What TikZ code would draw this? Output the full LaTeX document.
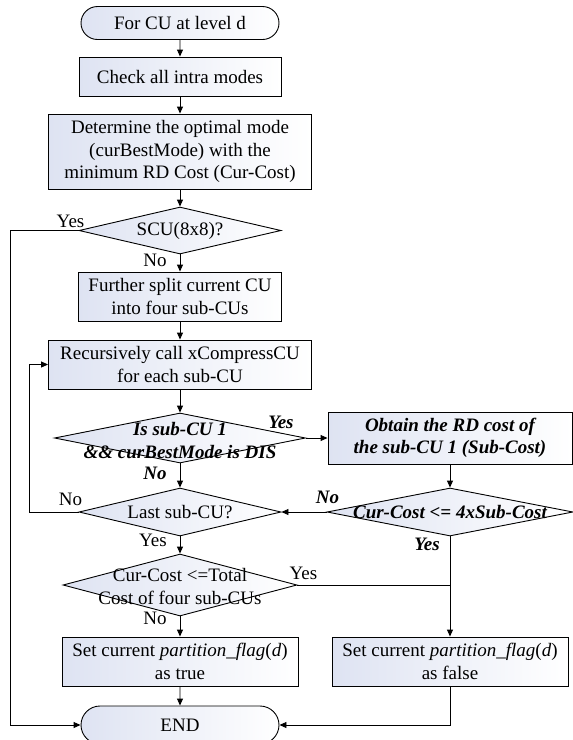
\documentclass[tikz,border=0pt]{standalone}
\usepackage{fontspec}
\setmainfont{Liberation Serif}
\usetikzlibrary{shapes.geometric, shapes.misc, arrows.meta, positioning, calc}
\definecolor{boxblue}{RGB}{222,227,242}

\begin{document}
\begin{tikzpicture}[
		x=1pt, y=-1pt,
		font=\fontsize{19}{22.5}\selectfont,
		flowbox/.style={draw=black, line width=0.9pt, left color=boxblue, right color=white, inner sep=2pt, align=center},
		terminal/.style={flowbox, rounded rectangle, minimum width=202pt},
		process/.style={flowbox, rectangle},
		decision/.style={flowbox, diamond, inner sep=0pt},
		condtext/.style={align=center, inner sep=0pt},
		arrow/.style={-{Triangle[length=7pt, width=6pt]}, line width=0.9pt},
		wire/.style={line width=0.9pt},
		bolditalic/.style={font=\fontsize{19}{22.5}\selectfont\bfseries\itshape}
		]
		\useasboundingbox (0,0) rectangle (573,740);
		
		% Main column
		\node[terminal, minimum height=33pt] (start) at (180,23) {For CU at level d};
		\node[process, minimum width=202pt, minimum height=39pt] (check) at (180,76.5) {Check all intra modes};
		\node[process, minimum width=263pt, minimum height=75pt] (best) at (180,151.5) {Determine the optimal mode\\(curBestMode) with the\\minimum RD Cost (Cur-Cost)};
		\node[decision, minimum width=202pt, minimum height=47pt] (scu) at (180,230.5) {};
		\node[condtext] (scu-t) at (scu) {SCU(8x8)?};
		\node[process, minimum width=203pt, minimum height=49pt] (further) at (180,296.5) {Further split current CU\\into four sub-CUs};
		\node[process, minimum width=263pt, minimum height=49pt] (recur) at (180,364.5) {Recursively call xCompressCU\\for each sub-CU};
		
		% Early termination check
		\node[decision, minimum width=251pt, minimum height=50pt] (dis) at (180,438) {};
		\node[condtext, bolditalic] (dis-t) at ($(dis)+(0,2.5)$) {Is sub-CU 1\\\&\& curBestMode is DIS};
		\node[process, bolditalic, minimum width=244pt, minimum height=52pt] (obtain) at (450,438) {Obtain the RD cost of\\the sub-CU 1 (Sub-Cost)};
		\node[decision, minimum width=246pt, minimum height=48pt] (cmp) at (450,512) {};
		\node[condtext, bolditalic] (cmp-t) at (cmp) {Cur-Cost <= 4xSub-Cost};
		
		% Loop and final decision
		\node[decision, minimum width=202pt, minimum height=48pt] (last) at (180,512) {};
		\node[condtext] (last-t) at (last) {Last sub-CU?};
		\node[decision, minimum width=234pt, minimum height=62pt] (total) at (180,585) {};
		\node[condtext] (total-t) at ($(total)+(0,1.5)$) {Cur-Cost <=Total\\Cost of four sub-CUs};
		\node[process, minimum width=236pt, minimum height=49pt] (settrue) at (180,661.5) {Set current \textit{partition\_flag}(\textit{d})\\as true};
		\node[process, minimum width=236pt, minimum height=49pt] (setfalse) at (450,661.5) {Set current \textit{partition\_flag}(\textit{d})\\as false};
		\node[terminal, minimum height=38pt] (end) at (180,725) {END};
		
		% Branch labels
		\node[condtext] (scu-yes) at ($(scu.west)+(-8,-9)$) {Yes};
		\node[condtext] (scu-no) at ($(scu.south)+(-25,6)$) {No};
		\node[condtext, bolditalic] (dis-yes) at ($(dis.east)+(-25,-16)$) {Yes};
		\node[condtext, bolditalic] (dis-no) at ($(dis.south)+(-25,10)$) {No};
		\node[condtext, bolditalic] (cmp-no) at ($(cmp.west)+(1,-15)$) {No};
		\node[condtext, bolditalic] (cmp-yes) at ($(cmp.south)+(-23,8)$) {Yes};
		\node[condtext] (last-no) at ($(last.west)+(-8,-13)$) {No};
		\node[condtext] (last-yes) at ($(last.south)+(-27,4)$) {Yes};
		\node[condtext] (total-yes) at ($(total.east)+(6,-12)$) {Yes};
		\node[condtext] (total-no) at ($(total.south)+(-25,2)$) {No};
		
		% Connectors
		\draw[arrow] (start) -- (check);
		\draw[arrow] (check) -- (best);
		\draw[arrow] (best) -- (scu);
		\draw[arrow] (scu.south) -- (further);
		\draw[arrow] (further) -- (recur);
		\draw[arrow] (recur) -- (dis);
		\draw[arrow] (dis.east) -- (obtain);
		\draw[arrow] (dis.south) -- (last);
		\draw[arrow] (obtain) -- (cmp);
		\draw[arrow] (cmp.west) -- (last.east);
		\draw[arrow] (last.south) -- (total);
		\draw[arrow] (total.south) -- (settrue);
		\draw[arrow] (cmp.south) -- (setfalse);
		\draw[wire] (total.east) -- (total.east -| cmp.south);
		\draw[arrow] (settrue) -- (end);
		\draw[arrow] (setfalse.south) |- (end.east);
		\draw[arrow] (last.west) -- ++(-49,0) |- (recur.west);
		\draw[arrow] (scu.west) -- ++(-68,0) |- (end.west);
		
	\end{tikzpicture}
\end{document}
